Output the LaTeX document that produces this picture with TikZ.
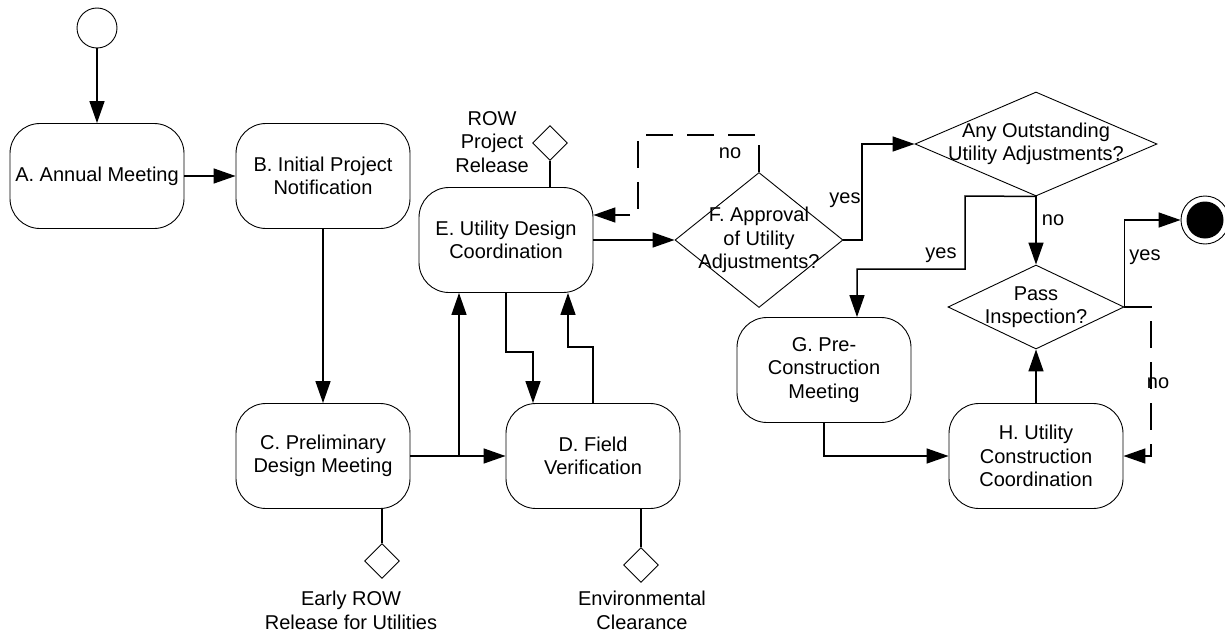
\documentclass[tikz,border=0pt]{standalone}
\usepackage{fontspec}
\setmainfont{Liberation Sans}
\usetikzlibrary{shapes.geometric,arrows.meta}
\begin{document}
\begin{tikzpicture}[x=1pt,y=-1pt,
  every node/.style={font=\fontsize{20}{23.5}\selectfont},
  act/.style={draw, line width=0.9pt, rounded corners=30pt, minimum width=174pt,
              minimum height=105pt, align=center, inner sep=0pt},
  decision/.style={draw, line width=0.9pt, diamond, inner sep=0pt},
  gate/.style={draw, line width=0.9pt, diamond, minimum size=35pt, inner sep=0pt},
  txt/.style={align=center, inner sep=0pt},
  conn/.style={line width=1.5pt, -{Triangle[length=22pt,width=15pt]}},
  link/.style={line width=1.5pt},
  loopback/.style={conn, dash pattern=on 27pt off 14pt},
]
\useasboundingbox (0,0) rectangle (1225,634);

% start and end states
\node[draw, line width=0.9pt, circle, minimum size=40pt, inner sep=0pt] (start) at (97,28) {};
\node[draw, line width=0.9pt, circle, minimum size=48pt, inner sep=0pt] (end) at (1205,220) {};
\node[fill=black, circle, minimum size=37pt, inner sep=0pt] (endfill) at (end) {};

% activities
\node[act] (A) at (97,176) {A. Annual Meeting};
\node[act] (B) at (323,176) {B. Initial Project\\Notification};
\node[act] (C) at (323,456) {C. Preliminary\\Design Meeting};
\node[act] (D) at (593,456) {D. Field\\Verification};
\node[act] (E) at (506,240) {E. Utility Design\\Coordination};
\node[act] (G) at (824,370) {G. Pre-\\Construction\\Meeting};
\node[act] (H) at (1036,456) {H. Utility\\Construction\\Coordination};

% decisions
\node[decision, minimum width=168pt, minimum height=135pt] (F) at (759,240) {};
\node[txt] (Ftext) at (759,240) {F. Approval\\of Utility\\Adjustments?};
\node[decision, minimum width=242pt, minimum height=104pt] (Q) at (1036,144) {};
\node[txt] (Qtext) at (1036,144) {Any Outstanding\\Utility Adjustments?};
\node[decision, minimum width=176pt, minimum height=84pt] (P) at (1036,307) {};
\node[txt] (Ptext) at (1036,307) {Pass\\Inspection?};

% milestone gates
\node[gate] (gE) at (550,143) {};
\node[txt] (gEtext) at (492,142) {ROW\\Project\\Release};
\node[gate] (gC) at (382,561) {};
\node[txt, anchor=north] (gCtext) at (351,591) {Early ROW\\Release for Utilities};
\node[gate] (gD) at (641,565) {};
\node[txt, anchor=north] (gDtext) at (642,591) {Environmental\\Clearance};

\draw[link] (gE.south) -- (gE.south |- E.north);
\draw[link] (gC.north |- C.south) -- (gC.north);
\draw[link] (gD.north |- D.south) -- (gD.north);

% main flow
\draw[conn] (start) -- (A);
\draw[conn] (A) -- (B);
\draw[conn] (B) -- (C);
\draw[conn] (C) -- (D);
\coordinate (cbr) at (459,456);
\draw[conn] (cbr) -- (cbr |- E.south);
\coordinate (ed) at (533,352);
\draw[conn] (E.south) |- (ed) -- (ed |- D.north);
\coordinate (de) at (568,347);
\draw[conn] (D.north) |- (de) -- (de |- E.south);
\draw[conn] (E.east) -- (F.west);

% approval loop
\coordinate (nTop) at (638,135);
\coordinate (nIn) at (638,215);
\draw[loopback] (F.north) |- (nTop) -- (nIn) -- (nIn -| E.east);
\node[txt] (lno1) at (730,153) {no};

\coordinate (fy) at (862,240);
\draw[conn] (F.east) -- (fy) |- (Q.west);
\node[txt] (lyes1) at (845,200) {yes};

\draw[conn] (Q.south) -- (P.north);
\node[txt] (lno2) at (1053,220) {no};

\coordinate (qy1) at (965,196);
\coordinate (qy2) at (857,269);
\draw[conn] (Q.south) -- (qy1) |- (qy2) -- (qy2 |- G.north);
\node[txt] (lyes2) at (941,255) {yes};

\draw[conn] (P.east) |- (end.west);
\node[txt] (lyes3) at (1145,257) {yes};

\coordinate (pn1) at (1151,307);
\coordinate (pn2) at (1151,456);
\draw[loopback] (P.east) -- (pn1) -- (pn2) -- (H.east);
\node[txt] (lno3) at (1158,383) {no};

\draw[conn] (H.north) -- (P.south);
\draw[conn] (G.south) |- (H.west);
\end{tikzpicture}
\end{document}
